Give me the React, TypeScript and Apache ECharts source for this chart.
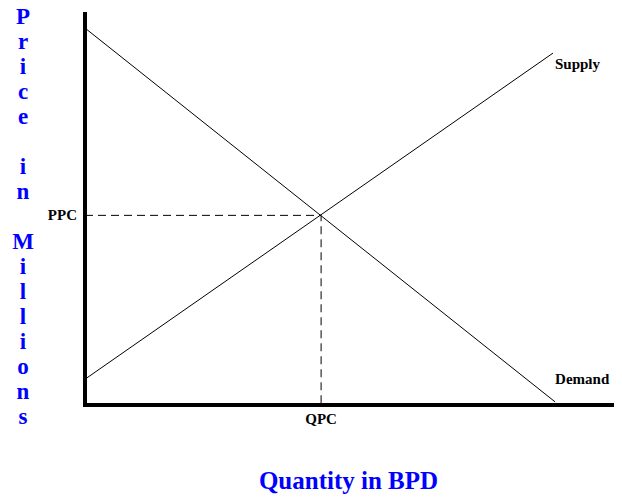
import React, { useEffect, useRef } from "react";
import * as echarts from "echarts";

const demand: [number, number][] = [
  [0, 96.4],
  [89.2, 0.8],
];
const supply: [number, number][] = [
  [0, 6.6],
  [88.8, 90.0],
];
const equilibrium: [number, number] = [44.8, 48.5];
const xTickLabel = "QPC";
const yTickLabel = "PPC";
const xAxisTitle = "Quantity in BPD";
const yAxisTitle = "Price in Millions";
const supplyName = "Supply";
const demandName = "Demand";

const SERIF = '"Liberation Serif", "Times New Roman", serif';

export default function App() {
  const ref = useRef<HTMLDivElement>(null);
  useEffect(() => {
    if (!ref.current) return;
    const chart = echarts.init(ref.current, null, { renderer: "svg" });
    const guide: [number, number][] = [
      [0, equilibrium[1]],
      [equilibrium[0], equilibrium[1]],
      [equilibrium[0], 0],
    ];
    const verticalTitle = yAxisTitle
      .split(" ")
      .map((w) => w.split("").join("\n"))
      .join("\n\n");
    chart.setOption({
      animation: false,
      backgroundColor: "#ffffff",
      grid: { left: 85, right: 10, top: 14, bottom: 96 },
      xAxis: {
        type: "value",
        min: 0,
        max: 100,
        splitLine: { show: false },
        axisTick: { show: false },
        axisLine: { show: true, lineStyle: { color: "#000", width: 4, cap: "square" } },
        axisLabel: {
          customValues: [equilibrium[0]],
          formatter: () => xTickLabel,
          color: "#000",
          fontFamily: SERIF,
          fontWeight: "bold",
          fontSize: 15,
          margin: 6,
        },
        name: xAxisTitle,
        nameLocation: "middle",
        nameGap: 63,
        nameTextStyle: {
          color: "#0000ff",
          fontFamily: SERIF,
          fontWeight: "bold",
          fontSize: 25,
        },
      },
      yAxis: {
        type: "value",
        min: 0,
        max: 100,
        splitLine: { show: false },
        axisTick: { show: false },
        axisLine: { show: true, lineStyle: { color: "#000", width: 4, cap: "square" } },
        axisLabel: {
          customValues: [equilibrium[1]],
          formatter: () => yTickLabel,
          color: "#000",
          fontFamily: SERIF,
          fontWeight: "bold",
          fontSize: 15,
          margin: 8,
        },
      },
      graphic: [
        {
          type: "text",
          x: 23,
          y: 216,
          style: {
            text: verticalTitle,
            fill: "#0000ff",
            font: `bold 23px ${SERIF}`,
            lineHeight: 25,
            align: "center",
            verticalAlign: "middle",
          },
        },
      ],
      series: [
        {
          type: "line",
          data: guide,
          symbol: "none",
          silent: true,
          lineStyle: { color: "#000", width: 1, type: [8, 5] },
        },
        {
          type: "line",
          name: demandName,
          data: demand,
          symbol: "none",
          lineStyle: { color: "#000", width: 1 },
          endLabel: {
            show: true,
            formatter: () => demandName,
            color: "#000",
            fontFamily: SERIF,
            fontWeight: "bold",
            fontSize: 15,
            distance: 0,
            offset: [0, -23],
          },
        },
        {
          type: "line",
          name: supplyName,
          data: supply,
          symbol: "none",
          lineStyle: { color: "#000", width: 1 },
          endLabel: {
            show: true,
            formatter: () => supplyName,
            color: "#000",
            fontFamily: SERIF,
            fontWeight: "bold",
            fontSize: 15,
            distance: 2,
            offset: [0, 11],
          },
        },
      ],
    });
    return () => chart.dispose();
  }, []);
  return (
    <div
      ref={ref}
      style={{ position: "absolute", left: 0, top: 0, width: 622, height: 501 }}
    />
  );
}
